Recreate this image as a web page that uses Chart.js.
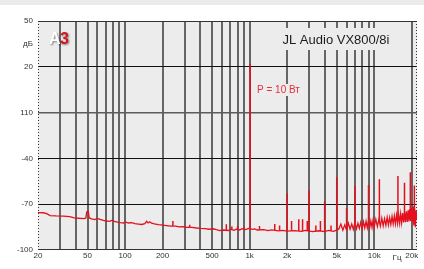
<!DOCTYPE html>
<html>
<head>
<meta charset="utf-8">
<script src="https://cdn.jsdelivr.net/npm/chart.js@4.4.1/dist/chart.umd.min.js"></script>
<style>
    html, body { margin: 0; padding: 0; background: #fff; }
    canvas { display: block; }
</style>
</head>
<body>
<canvas id="myChart" width="424" height="269"></canvas>
<script>
// Spectrum noise floor (Hz / dB)
const floorHz = [20, 22, 23.5, 25, 28, 32, 36, 39, 43, 47, 48.5, 49.2, 50, 50.8, 51.5, 54, 57, 60, 63, 67,
    71, 75, 79, 82, 87, 92, 97, 101, 106, 113, 120, 128, 136, 144, 149, 153, 158, 163, 172, 185,
    200, 215, 232, 255, 272, 290, 310, 345, 375, 405, 440, 470, 510, 540, 575, 610, 680, 700, 750, 780,
    830, 870, 930, 980, 1050, 1100, 1150, 1300, 1400, 1500, 1700, 1850, 2000, 2300, 2600, 2800, 3200, 3600, 4000, 4300,
    4700, 5000, 5200, 5400, 5600, 5800, 6000, 6200, 6400, 6600, 6800, 7000, 7200, 7400, 7600, 7800, 8000, 8200, 8400, 8600,
    8800, 9000, 9200, 9400, 9600, 9800, 10000, 10300, 10600, 10900, 11200, 11500, 11800, 12100, 12400, 12700, 13000, 13300, 13600, 13900,
    14200, 14500, 14800, 15100, 15400, 15700, 16000, 16300, 16600, 16900, 17200, 17500, 17800, 18100, 18400, 18700, 19000, 19300, 19600, 19900,
    20200, 20500, 20800, 21100, 21400, 21700, 22050];
const floorDb = [-75.5, -75.6, -76.2, -77.5, -77.7, -77.8, -78.1, -78.9, -79.2, -79.4, -79, -75.2, -74.5, -75, -79, -79.6, -80.1, -79.3, -79.9, -80.6,
    -81, -81.3, -80.5, -81.2, -81.8, -82.1, -82.3, -81.6, -82.3, -82.1, -82.7, -83, -83.3, -82.8, -81.2, -82.3, -81.5, -82.4, -82.9, -83.4,
    -83.7, -84, -84.4, -84.3, -84.9, -84.7, -85.1, -85.2, -85.6, -85.9, -86, -86.4, -86.1, -86.7, -87.3, -86.9, -87.2, -86.4, -87.1, -86.3,
    -86.9, -86.1, -86.6, -85.8, -86.5, -86.2, -86.9, -86.6, -87.3, -86.8, -87.5, -87.1, -87.6, -87.3, -87.8, -87.2, -87.9, -87.4, -87.9, -87.2,
    -87.8, -87, -86.2, -83, -87, -83.5, -86.8, -82.5, -86.4, -83, -86.5, -82, -86.2, -82.5, -85.8, -81.8, -86, -81.5, -85.6, -81.2,
    -85.5, -80.6, -85.4, -81, -85.2, -80.2, -85, -79.8, -84.7, -80, -84.4, -79.2, -84.2, -79.5, -83.8, -78.6, -83.6, -78.8, -83.3, -78,
    -83, -77.6, -82.8, -77.2, -82.6, -76.8, -82.4, -76.3, -82.2, -75.8, -82, -75.2, -81.8, -74.6, -81.6, -74, -81.3, -73.2, -81, -72.2,
    -82, -71.5, -84, -73, -85, -74, -80];

// Fundamental, harmonics and small spurs: frequency, peak, foot
const spikeHz = [242, 330, 650, 720, 800, 900, 1010, 1200, 1590, 1740, 2000, 2170, 2480, 2660, 2900, 3000, 3400, 3700, 4000, 4500,
    5000, 6000, 7000, 9000, 11000, 15500, 17500, 19500, 21000];
const spikeDb = [-81, -83.5, -83.2, -84.6, -84.5, -84.9, 21.8, -84.2, -83, -83.9, -63, -81, -79.8, -79.8, -81, -61, -84, -81, -68, -84,
    -52.4, -72.7, -58, -57.4, -53.7, -51.5, -56, -49, -57.7];
const spikeBase = [-84.3, -85.1, -87, -86.8, -86.6, -86.4, -86, -86.7, -87, -87.3, -87.6, -87.4, -87.6, -87.7, -87.5, -87.6, -87.7, -87.6, -87.9, -87.5,
    -87, -86.8, -84, -83, -82, -80, -79, -77, -78];

// Axes
const xGridHz = [20, 30, 40, 50, 60, 70, 80, 90, 100, 200, 300, 400, 500, 600, 700, 800, 900,
    1000, 2000, 3000, 4000, 5000, 6000, 7000, 8000, 9000, 10000, 20000];
const xLabelHz = [20, 50, 100, 200, 500, 1000, 2000, 5000, 10000, 20000];
const xLabels = ['20', '50', '100', '200', '500', '1k', '2k', '5k', '10k', '20k'];
const yTicks = [50, 35, 20, -10, -40, -70, -100];
const yLabels = ['50', 'дБ', '20', '110', '-40', '-70', '-100'];

const lineRed = 'rgb(228, 16, 30)';
const bgPlot = '#ececec';
const labelFont = { family: '"Liberation Sans", Arial, sans-serif', size: 8 };

const floorPoints = floorHz.map((f, i) => ({ x: f, y: floorDb[i] }));
const spikePoints = [];
spikeHz.forEach((f, i) => {
    spikePoints.push({ x: f, y: spikeBase[i] });
    spikePoints.push({ x: f, y: spikeDb[i] });
    spikePoints.push({ x: f, y: null });
});

const decorPlugin = {
    id: 'decor',
    beforeDraw(chart) {
        const { ctx, chartArea: a } = chart;
        ctx.save();
        ctx.fillStyle = '#ffffff';
        ctx.fillRect(0, 0, chart.width, chart.height);
        ctx.fillStyle = '#ebebeb';
        ctx.fillRect(0, 0, chart.width, 5);
        ctx.fillStyle = bgPlot;
        ctx.fillRect(a.left, a.top, a.right - a.left, a.bottom - a.top);
        ctx.restore();
    },
    beforeDatasetsDraw(chart) {
        const { ctx, chartArea: a } = chart;
        ctx.save();

        // boxes behind the texts hide the grid
        ctx.fillStyle = bgPlot;
        ctx.fillRect(282, 28, 110, 22);
        ctx.fillRect(255, 84, 48, 12);

        ctx.fillStyle = '#1c1c1c';
        ctx.font = '13px "Liberation Sans", Arial, sans-serif';
        ctx.textAlign = 'center';
        ctx.textBaseline = 'middle';
        ctx.fillText('JL Audio VX800/8i', 336, 40);

        ctx.fillStyle = 'rgb(232, 48, 58)';
        ctx.font = '10px "Liberation Sans", Arial, sans-serif';
        ctx.textAlign = 'left';
        ctx.textBaseline = 'alphabetic';
        ctx.fillText('P = 10 Вт', 257, 93);

        ctx.fillStyle = '#333';
        ctx.font = '8px "Liberation Sans", Arial, sans-serif';
        ctx.textAlign = 'center';
        ctx.textBaseline = 'middle';
        ctx.fillText('Гц', 397, 258);

        // logo
        ctx.font = 'bold 16px "Liberation Sans", Arial, sans-serif';
        ctx.textAlign = 'left';
        ctx.textBaseline = 'alphabetic';
        ctx.shadowColor = 'rgba(0,0,0,0.45)';
        ctx.shadowBlur = 2;
        ctx.shadowOffsetX = 1;
        ctx.shadowOffsetY = 1;
        ctx.fillStyle = '#ffffff';
        ctx.fillText('A', 49, 44);
        ctx.fillStyle = 'rgb(210, 20, 28)';
        ctx.fillText('3', 60, 44);
        ctx.shadowColor = 'transparent';

        // frame
        ctx.strokeStyle = '#333';
        ctx.lineWidth = 1;
        ctx.beginPath();
        ctx.moveTo(a.left, a.top + 0.5);
        ctx.lineTo(a.right, a.top + 0.5);
        ctx.moveTo(a.left, a.bottom - 0.5);
        ctx.lineTo(a.right, a.bottom - 0.5);
        ctx.stroke();
        ctx.setLineDash([1, 2]);
        ctx.beginPath();
        ctx.moveTo(a.left + 0.5, a.top);
        ctx.lineTo(a.left + 0.5, a.bottom);
        ctx.moveTo(a.right - 0.5, a.top);
        ctx.lineTo(a.right - 0.5, a.bottom);
        ctx.stroke();
        ctx.restore();
    }
};

const ctx = document.getElementById('myChart').getContext('2d');
const myChart = new Chart(ctx, {
    type: 'line',
    data: {
        datasets: [{
            data: floorPoints,
            borderColor: lineRed,
            borderWidth: 1.3,
            pointRadius: 0,
            tension: 0
        }, {
            data: spikePoints,
            borderColor: lineRed,
            borderWidth: 1.5,
            pointRadius: 0,
            tension: 0,
            spanGaps: false
        }]
    },
    plugins: [decorPlugin],
    options: {
        responsive: false,
        animation: false,
        layout: { padding: { left: 0, right: 7, top: 21, bottom: 0 } },
        plugins: {
            legend: { display: false },
            tooltip: { enabled: false }
        },
        scales: {
            x: {
                type: 'logarithmic',
                min: 20,
                max: 22050,
                afterBuildTicks: scale => { scale.ticks = xGridHz.map(v => ({ value: v })); },
                afterFit: scale => { scale.height = 19; },
                border: { display: false },
                grid: {
                    drawTicks: false,
                    lineWidth: 2,
                    color: c => (c.tick && c.tick.value === 20) ? 'rgba(0,0,0,0)' : '#666666'
                },
                ticks: {
                    autoSkip: false,
                    maxRotation: 0,
                    minRotation: 0,
                    padding: 1,
                    color: '#333',
                    font: labelFont,
                    callback: value => {
                        const i = xLabelHz.indexOf(value);
                        return i >= 0 ? xLabels[i] : '';
                    }
                }
            },
            y: {
                type: 'linear',
                min: -100,
                max: 50,
                afterBuildTicks: scale => { scale.ticks = yTicks.map(v => ({ value: v })); },
                afterFit: scale => { scale.width = 38; },
                border: { display: false },
                grid: {
                    drawTicks: false,
                    lineWidth: c => (c.tick && c.tick.value === -10) ? 1.4 : 1,
                    color: c => {
                        const v = c.tick ? c.tick.value : null;
                        if (v === 20 || v === -40 || v === -70) return '#111';
                        if (v === -10) return '#5c5c5c';
                        return 'rgba(0,0,0,0)';
                    }
                },
                ticks: {
                    autoSkip: false,
                    padding: 5,
                    color: '#333',
                    font: labelFont,
                    callback: value => {
                        const i = yTicks.indexOf(value);
                        return i >= 0 ? yLabels[i] : '';
                    }
                }
            }
        }
    }
});
</script>
</body>
</html>
